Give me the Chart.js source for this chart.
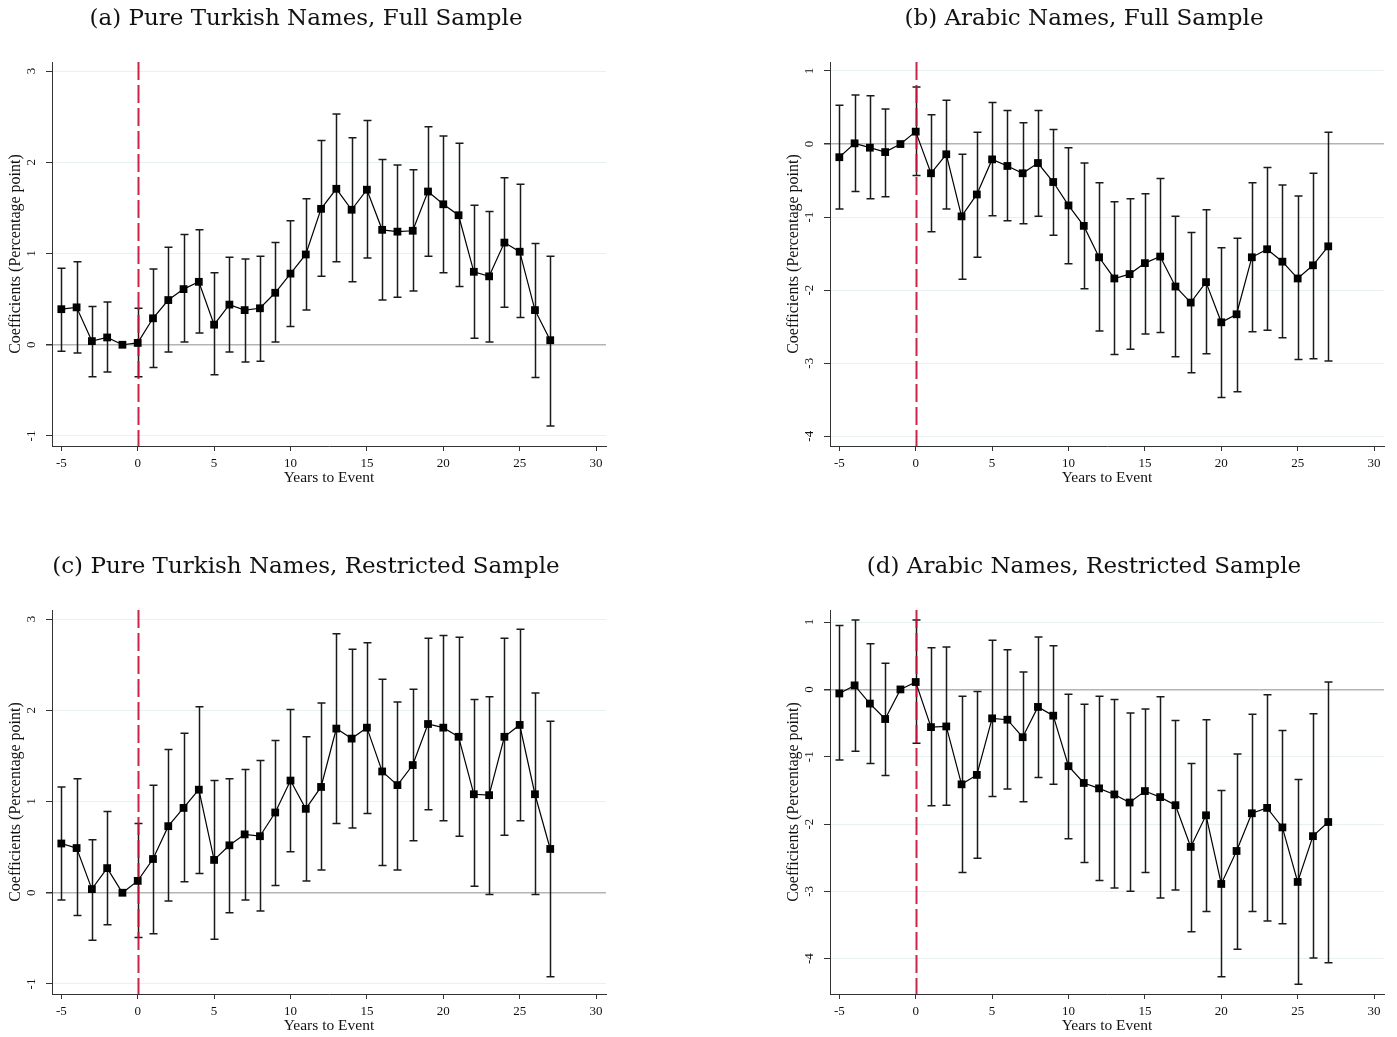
<!DOCTYPE html>
<html><head><meta charset="utf-8">
<script src="https://cdn.jsdelivr.net/npm/chart.js@4.4.1/dist/chart.umd.min.js"></script>
<style>
html,body{margin:0;padding:0;background:#fff}
body{width:1397px;height:1037px;overflow:hidden;position:relative}
.panel{position:absolute;width:619px;height:500px}
.panel canvas{position:absolute;left:0;top:0}
.ttl{position:absolute;left:0;width:612px;top:4px;line-height:26px;text-align:center;font-family:'DejaVu Serif',serif;font-size:23px;font-weight:normal;color:#111;white-space:nowrap}
</style></head><body>
<div class="panel" style="left:0;top:0"><canvas id="ca" width="619" height="500"></canvas><div class="ttl">(a) Pure Turkish Names, Full Sample</div></div>
<div class="panel" style="left:778px;top:0"><canvas id="cb" width="619" height="500"></canvas><div class="ttl">(b) Arabic Names, Full Sample</div></div>
<div class="panel" style="left:0;top:548px"><canvas id="cc" width="619" height="500"></canvas><div class="ttl">(c) Pure Turkish Names, Restricted Sample</div></div>
<div class="panel" style="left:778px;top:548px"><canvas id="cd" width="619" height="500"></canvas><div class="ttl">(d) Arabic Names, Restricted Sample</div></div>
<script>
// ---- data ----
const yearsToEvent = [-5,-4,-3,-2,-1,0,1,2,3,4,5,6,7,8,9,10,11,12,13,14,15,16,17,18,19,20,21,22,23,24,25,26,27];
const eventYear = 0;
const xTicks = [-5,0,5,10,15,20,25,30];
const yTicksTurkish = [-1,0,1,2,3];
const yTicksArabic = [-4,-3,-2,-1,0,1];

const coefA = [0.39,0.41,0.04,0.08,0,0.02,0.29,0.49,0.61,0.69,0.22,0.44,0.38,0.40,0.57,0.78,0.99,1.49,1.71,1.48,1.70,1.26,1.24,1.25,1.68,1.54,1.42,0.80,0.75,1.12,1.02,0.38,0.05];
const hiA   = [0.84,0.91,0.42,0.47,null,0.40,0.83,1.07,1.21,1.26,0.79,0.96,0.94,0.97,1.12,1.36,1.60,2.24,2.53,2.27,2.46,2.03,1.97,1.92,2.39,2.29,2.21,1.53,1.46,1.83,1.76,1.11,0.97];
const loA   = [-0.07,-0.09,-0.35,-0.30,null,-0.35,-0.25,-0.08,0.03,0.13,-0.33,-0.08,-0.19,-0.18,0.03,0.20,0.38,0.75,0.91,0.69,0.95,0.49,0.52,0.59,0.97,0.79,0.64,0.07,0.03,0.41,0.30,-0.36,-0.89];

const coefB = [-0.18,0.01,-0.05,-0.11,0,0.17,-0.40,-0.14,-0.99,-0.69,-0.21,-0.30,-0.40,-0.26,-0.52,-0.84,-1.12,-1.55,-1.84,-1.78,-1.63,-1.54,-1.95,-2.17,-1.89,-2.44,-2.33,-1.55,-1.44,-1.61,-1.84,-1.66,-1.40];
const hiB   = [0.53,0.67,0.66,0.48,null,0.78,0.40,0.60,-0.14,0.16,0.57,0.46,0.29,0.46,0.20,-0.05,-0.26,-0.53,-0.79,-0.75,-0.68,-0.47,-0.99,-1.21,-0.90,-1.42,-1.29,-0.53,-0.32,-0.56,-0.71,-0.40,0.16];
const loB   = [-0.89,-0.65,-0.75,-0.72,null,-0.43,-1.20,-0.89,-1.85,-1.55,-0.98,-1.05,-1.09,-0.99,-1.25,-1.64,-1.98,-2.56,-2.88,-2.81,-2.60,-2.58,-2.91,-3.13,-2.87,-3.47,-3.39,-2.57,-2.55,-2.65,-2.95,-2.94,-2.97];

const coefC = [0.54,0.49,0.04,0.27,0,0.13,0.37,0.73,0.93,1.13,0.36,0.52,0.64,0.62,0.88,1.23,0.92,1.16,1.80,1.69,1.81,1.33,1.18,1.40,1.85,1.81,1.71,1.08,1.07,1.71,1.84,1.08,0.48];
const hiC   = [1.16,1.25,0.58,0.89,null,0.76,1.18,1.57,1.75,2.04,1.23,1.25,1.35,1.45,1.67,2.01,1.71,2.08,2.84,2.67,2.74,2.34,2.09,2.23,2.79,2.82,2.80,2.12,2.15,2.79,2.89,2.19,1.88];
const loC   = [-0.08,-0.25,-0.52,-0.35,null,-0.49,-0.45,-0.09,0.12,0.21,-0.51,-0.22,-0.08,-0.20,0.08,0.45,0.13,0.25,0.76,0.71,0.87,0.30,0.25,0.57,0.91,0.79,0.62,0.07,-0.02,0.63,0.79,-0.02,-0.92];

const coefD = [-0.06,0.06,-0.21,-0.44,0,0.11,-0.56,-0.55,-1.41,-1.27,-0.43,-0.45,-0.71,-0.26,-0.39,-1.14,-1.39,-1.47,-1.56,-1.68,-1.51,-1.60,-1.72,-2.34,-1.87,-2.89,-2.40,-1.84,-1.76,-2.05,-2.86,-2.18,-1.97];
const hiD   = [0.95,1.03,0.68,0.39,null,1.03,0.62,0.63,-0.10,-0.03,0.73,0.59,0.26,0.78,0.65,-0.07,-0.22,-0.10,-0.15,-0.35,-0.29,-0.11,-0.46,-1.10,-0.45,-1.50,-0.96,-0.37,-0.08,-0.61,-1.34,-0.36,0.11];
const loD   = [-1.05,-0.92,-1.10,-1.28,null,-0.80,-1.73,-1.72,-2.72,-2.51,-1.59,-1.48,-1.67,-1.31,-1.41,-2.22,-2.57,-2.84,-2.95,-3.00,-2.72,-3.10,-2.98,-3.60,-3.30,-4.27,-3.86,-3.30,-3.44,-3.48,-4.38,-3.99,-4.06];

// ---- drawing ----
const SERIF = "'Liberation Serif', 'Times New Roman', serif";
const AXIS = '#333';

const errorBarPlugin = {
  id: 'errbars',
  beforeDatasetsDraw(chart) {
    const {ctx, chartArea, scales: {x, y}} = chart;
    const o = chart.options.plugins.errbars;
    ctx.save();
    ctx.strokeStyle = '#1a1a1a';
    ctx.lineWidth = 1.5;
    ctx.beginPath();
    for (let i = 0; i < yearsToEvent.length; i++) {
      if (o.lo[i] == null || o.hi[i] == null) continue;
      const px = Math.round(x.getPixelForValue(yearsToEvent[i])) + 0.5;
      const yl = y.getPixelForValue(o.lo[i]);
      const yh = y.getPixelForValue(o.hi[i]);
      ctx.moveTo(px, yl); ctx.lineTo(px, yh);
      ctx.moveTo(px - 4, yl); ctx.lineTo(px + 4, yl);
      ctx.moveTo(px - 4, yh); ctx.lineTo(px + 4, yh);
    }
    ctx.stroke();
    // event line
    const ex = Math.round(x.getPixelForValue(eventYear)) + 0.5;
    ctx.globalAlpha = 0.92;
    ctx.strokeStyle = '#c8103a';
    ctx.lineWidth = 2;
    ctx.setLineDash([18, 5]);
    ctx.beginPath();
    ctx.moveTo(ex, chartArea.top); ctx.lineTo(ex, chartArea.bottom);
    ctx.stroke();
    ctx.restore();
  }
};

function makeChart(id, coef, lo, hi, yMin, yMax, yTicks) {
  return new Chart(document.getElementById(id), {
    type: 'line',
    data: {
      datasets: [{
        data: yearsToEvent.map((v, i) => ({x: v, y: coef[i]})),
        borderColor: '#000',
        borderWidth: 1.2,
        pointStyle: 'rect',
        pointRadius: 5.5,
        pointBackgroundColor: '#000',
        pointBorderWidth: 0,
        tension: 0,
        fill: false
      }]
    },
    options: {
      responsive: false,
      animation: false,
      devicePixelRatio: 1,
      layout: {padding: {left: 0, top: 62, right: 13, bottom: 0}},
      plugins: {
        legend: {display: false},
        tooltip: {enabled: false},
        errbars: {lo: lo, hi: hi}
      },
      scales: {
        x: {
          type: 'linear',
          min: -5.61, max: 30.65,
          afterBuildTicks: s => { s.ticks = xTicks.map(v => ({value: v})); },
          afterFit: s => { s.height = 54; },
          grid: {drawOnChartArea: false, drawTicks: true, tickLength: 5, color: AXIS, tickColor: AXIS},
          border: {display: true, color: AXIS, width: 1},
          ticks: {font: {family: SERIF, size: 13}, color: '#111', padding: 5, maxRotation: 0, minRotation: 0, autoSkip: false},
          title: {display: true, text: 'Years to Event', font: {family: SERIF, size: 15.5}, color: '#111', padding: {top: 0, bottom: 13}}
        },
        y: {
          type: 'linear',
          min: yMin, max: yMax,
          afterBuildTicks: s => { s.ticks = yTicks.map(v => ({value: v})); },
          afterFit: s => { s.width = 52; },
          grid: {
            color: c => (c.tick && c.tick.value === 0) ? '#b4b4b4' : '#e8f0f1',
            lineWidth: c => (c.tick && c.tick.value === 0) ? 1.5 : 1,
            tickColor: AXIS, tickLength: 6, drawTicks: true
          },
          border: {display: true, color: AXIS, width: 1},
          ticks: {font: {family: SERIF, size: 13}, color: '#111', padding: 9, minRotation: 90, maxRotation: 90, crossAlign: 'center', autoSkip: false},
          title: {display: true, text: 'Coefficients (Percentage point)', font: {family: SERIF, size: 16}, color: '#111', padding: {top: 6, bottom: 0}}
        }
      }
    },
    plugins: [errorBarPlugin]
  });
}

makeChart('ca', coefA, loA, hiA, -1.11, 3.1, yTicksTurkish);
makeChart('cb', coefB, loB, hiB, -4.133, 1.123, yTicksArabic);
makeChart('cc', coefC, loC, hiC, -1.11, 3.1, yTicksTurkish);
makeChart('cd', coefD, loD, hiD, -4.525, 1.18, yTicksArabic);
</script>
</body></html>
